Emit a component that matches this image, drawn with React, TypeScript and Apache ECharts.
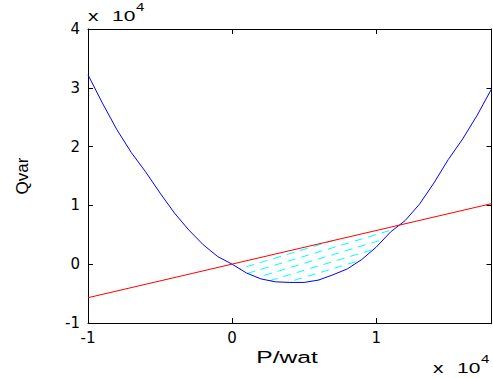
import { useEffect, useRef } from 'react';
import * as echarts from 'echarts';

// Blue curve (Qvar vs P), units as plotted (×10^4 on both axes)
const xValues = [
  -10000, -9000, -8000, -7000, -6000, -5000, -4000, -3000, -2000, -1000,
  0, 1000, 2000, 3000, 4000, 5000, 6000, 7000, 8000, 9000,
  10000, 11000, 12000, 13000, 14000, 15000, 16000, 17000, 18000,
];
const curveQ = [
  32200, 27400, 22900, 19000, 15700, 12100, 8700, 5800, 3300, 1300,
  0, -1500, -2500, -3000, -3100, -3100, -2700, -1800, -800, 800,
  2900, 5500, 7400, 10200, 13800, 17800, 21300, 25300, 29800,
];
// Red straight line
const lineX = [-10000, 18000];
const lineQ = [-5700, 10300];

const xTickLabels = ['-1', '0', '1'];
const yTickLabels = ['-1', '0', '1', '2', '3', '4'];

function interp(xs: number[], ys: number[], x: number): number {
  if (x <= xs[0]) return ys[0];
  for (let i = 1; i < xs.length; i++) {
    if (x <= xs[i]) {
      const t = (x - xs[i - 1]) / (xs[i] - xs[i - 1]);
      return ys[i - 1] + t * (ys[i] - ys[i - 1]);
    }
  }
  return ys[ys.length - 1];
}

export default function App() {
  const ref = useRef<HTMLDivElement>(null);
  useEffect(() => {
    if (!ref.current) return;
    const chart = echarts.init(ref.current, null, { renderer: 'svg' });
    const tickFont = 'DejaVu Sans, Arial, sans-serif';
    const textFont = 'Liberation Sans, Arial, sans-serif';
    const hatchSlope = 0.74;
    const hatchStep = 1190;

    const renderHatch = (_params: any, api: any) => {
      const children: any[] = [];
      let k = 0;
      for (let c = -9500; c <= 1000; c += hatchStep) {
        let x1: number | null = null;
        let x2: number | null = null;
        for (let x = 0; x <= 12500; x += 10) {
          const y = hatchSlope * x + c;
          const lo = interp(xValues, curveQ, x);
          const hi = interp(lineX, lineQ, x);
          if (hi > lo && y >= lo && y <= hi) {
            if (x1 === null) x1 = x;
            x2 = x;
          }
        }
        if (x1 !== null && x2 !== null && x2 > x1) {
          const p1 = api.coord([x1, hatchSlope * x1 + c]);
          const p2 = api.coord([x2, hatchSlope * x2 + c]);
          children.push({
            type: 'line',
            shape: { x1: p1[0], y1: p1[1], x2: p2[0], y2: p2[1] },
            style: { stroke: '#00ffff', lineWidth: 1, lineDash: [8, 6], lineDashOffset: (k % 2) * 7 },
          });
        }
        k++;
      }
      return { type: 'group', children };
    };

    const axisLineStyle = { show: true, onZero: false, lineStyle: { color: '#000', width: 1 } };
    const tickStyle = { show: true, inside: true, length: 5, lineStyle: { color: '#000', width: 1 } };
    const fmt = (v: number) => {
      const s = String(Math.round(v / 10000));
      return [...xTickLabels, ...yTickLabels].includes(s) ? s : '';
    };

    const expo = (x: number, y: number) => [
      { type: 'text', x, y, scaleX: 1.5, style: { text: 'x', fontSize: 14, fontFamily: textFont, fill: '#000', align: 'left', verticalAlign: 'middle' } },
      { type: 'text', x: x + 24, y, scaleX: 1.5, style: { text: '10', fontSize: 14, fontFamily: textFont, fill: '#000', align: 'left', verticalAlign: 'middle' } },
      { type: 'text', x: x + 48, y: y - 9, scaleX: 1.5, style: { text: '4', fontSize: 10, fontFamily: textFont, fill: '#000', align: 'left', verticalAlign: 'middle' } },
    ];

    chart.setOption({
      animation: false,
      backgroundColor: '#fff',
      grid: { left: 88, right: 1.5, top: 29, bottom: 55, containLabel: false },
      xAxis: [
        {
          type: 'value', min: -10000, max: 18000, interval: 10000, position: 'bottom',
          axisLine: axisLineStyle, axisTick: tickStyle, splitLine: { show: false },
          axisLabel: { formatter: fmt, color: '#000', fontSize: 15, fontFamily: tickFont, margin: 7, showMaxLabel: false },
        },
        {
          type: 'value', min: -10000, max: 18000, interval: 10000, position: 'top',
          axisLine: axisLineStyle, axisTick: tickStyle, splitLine: { show: false }, axisLabel: { show: false },
        },
      ],
      yAxis: [
        {
          type: 'value', min: -10000, max: 40000, interval: 10000, position: 'left',
          axisLine: axisLineStyle, axisTick: tickStyle, splitLine: { show: false },
          axisLabel: { formatter: fmt, color: '#000', fontSize: 15, fontFamily: tickFont, margin: 8 },
        },
        {
          type: 'value', min: -10000, max: 40000, interval: 10000, position: 'right',
          axisLine: axisLineStyle, axisTick: tickStyle, splitLine: { show: false }, axisLabel: { show: false },
        },
      ],
      graphic: [
        ...expo(88, 16),
        ...expo(433, 368),
        { type: 'text', x: 287, y: 357, scaleX: 1.45, style: { text: 'P/wat', fontSize: 17, fontFamily: textFont, fill: '#000', align: 'center', verticalAlign: 'middle' } },
        { type: 'text', x: 22, y: 176, rotation: Math.PI / 2, style: { text: 'Qvar', fontSize: 17, fontFamily: textFont, fill: '#000', align: 'center', verticalAlign: 'middle' } },
      ],
      series: [
        {
          type: 'custom', xAxisIndex: 0, yAxisIndex: 0, data: [[0, 0]],
          renderItem: renderHatch, silent: true, z: 1,
        },
        {
          type: 'line', xAxisIndex: 0, yAxisIndex: 0,
          data: xValues.map((x, i) => [x, curveQ[i]]),
          showSymbol: false, symbol: 'none', lineStyle: { color: '#0000ff', width: 1 }, z: 2,
        },
        {
          type: 'line', xAxisIndex: 0, yAxisIndex: 0,
          data: lineX.map((x, i) => [x, lineQ[i]]),
          showSymbol: false, symbol: 'none', lineStyle: { color: '#ff0000', width: 1 }, z: 3,
        },
      ],
    });
    return () => chart.dispose();
  }, []);
  return <div ref={ref} style={{ position: 'fixed', left: 0, top: 0, width: 493, height: 378, background: '#fff' }} />;
}
